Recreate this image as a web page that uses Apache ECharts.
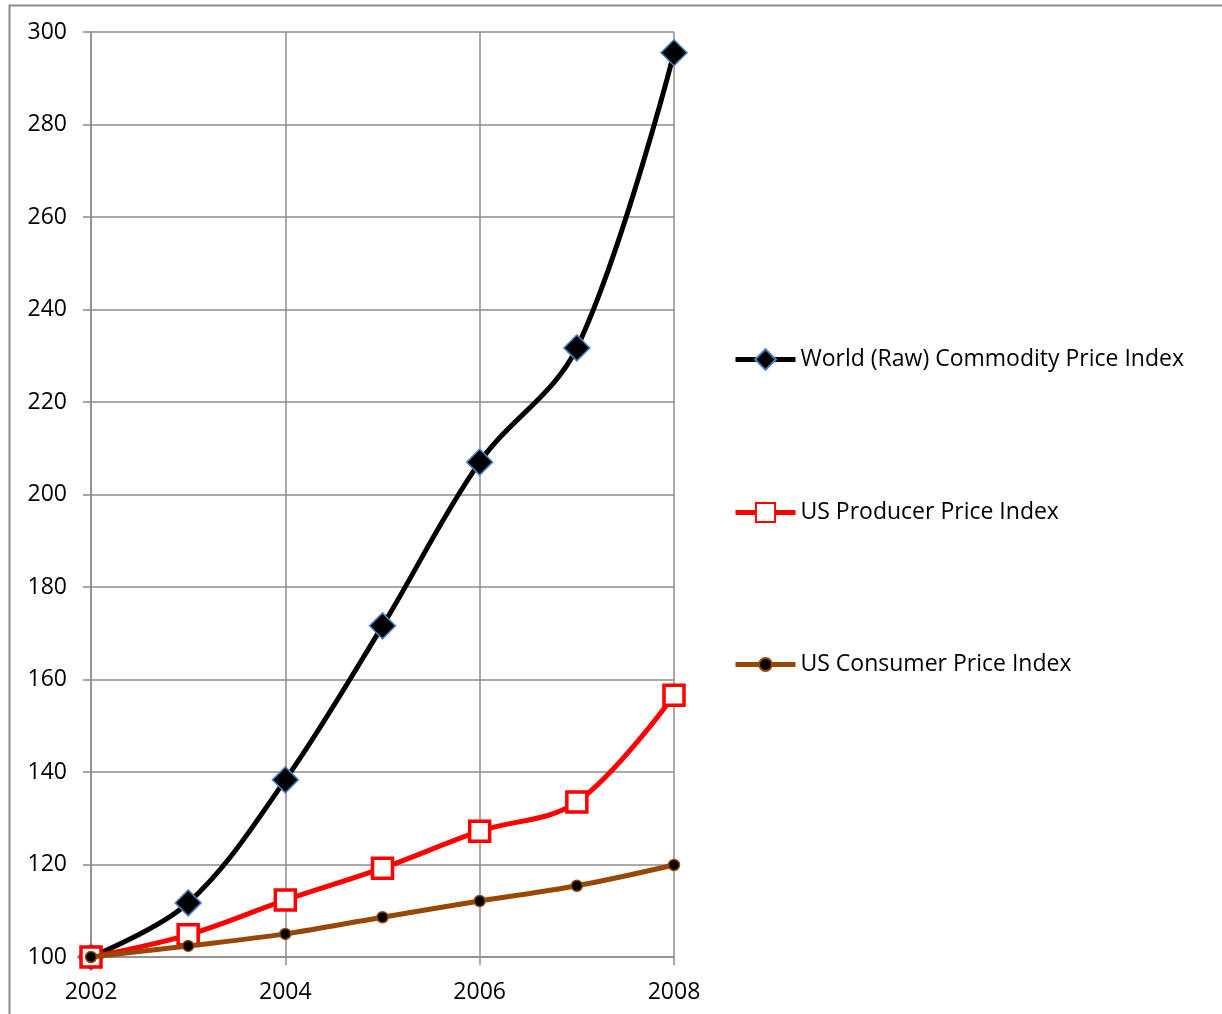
<!DOCTYPE html>
<html><head><meta charset="utf-8">
<script src="https://cdn.jsdelivr.net/npm/echarts@6/dist/echarts.min.js"></script>
<style>html,body{margin:0;padding:0;background:#fff}#c{width:1222px;height:1014px}</style>
</head><body><div id="c"></div>
<script>
const years = [2002, 2003, 2004, 2005, 2006, 2007, 2008];
const commodity = [100, 111.7, 138.3, 171.6, 207, 231.7, 295.5];
const producer = [100, 104.8, 112.3, 119.2, 127.2, 133.5, 156.6];
const consumer = [100, 102.4, 105, 108.6, 112.1, 115.4, 119.9];
const names = ['World (Raw) Commodity Price Index', 'US Producer Price Index', 'US Consumer Price Index'];
const pairs = arr => years.map((y, i) => [y, arr[i]]);
const FONT = 'Open Sans';
const FS = 23;
const legendCenters = [361, 514, 666];
const legendIconH = [26, 24, 16];
const chart = echarts.init(document.getElementById('c'));
chart.setOption({
  animation: false,
  backgroundColor: '#fff',
  graphic: [{type: 'rect', shape: {x: 9.5, y: 5.5, width: 1300, height: 1100}, style: {fill: 'none', stroke: '#8c8c8c', lineWidth: 2}, silent: true}],
  grid: {left: 91, right: 548, top: 32, bottom: 57},
  xAxis: {
    type: 'value', min: 2002, max: 2008, interval: 2,
    axisLine: {show: true, lineStyle: {color: '#8c8c8c', width: 1.5}},
    axisTick: {show: true, length: 8, lineStyle: {color: '#8c8c8c', width: 1.5}},
    splitLine: {show: true, lineStyle: {color: '#8c8c8c', width: 1.5}},
    axisLabel: {formatter: v => String(v), color: '#000', fontFamily: FONT, fontSize: FS, margin: 24}
  },
  yAxis: {
    type: 'value', min: 100, max: 300, interval: 20,
    axisLine: {show: true, lineStyle: {color: '#8c8c8c', width: 1.5}},
    axisTick: {show: true, length: 8, lineStyle: {color: '#8c8c8c', width: 1.5}},
    splitLine: {show: true, lineStyle: {color: '#8c8c8c', width: 1.5}},
    axisLabel: {color: '#000', fontFamily: FONT, fontSize: FS, margin: 24}
  },
  legend: names.map((n, i) => ({
    orient: 'vertical', left: 733, top: legendCenters[i] - Math.max(legendIconH[i], 26) / 2,
    itemWidth: 60, itemHeight: legendIconH[i], padding: 0,
    lineStyle: {width: 5},
    textStyle: {color: '#000', fontFamily: FONT, fontSize: FS},
    data: [n]
  })),
  series: [
    {name: names[0], type: 'line', smooth: 0.35, data: pairs(commodity),
     lineStyle: {color: '#000', width: 5}, symbol: 'diamond', symbolSize: 26,
     itemStyle: {color: '#000', borderColor: '#4f81bd', borderWidth: 1.5}, z: 2},
    {name: names[1], type: 'line', smooth: 0.35, data: pairs(producer),
     lineStyle: {color: '#ff0000', width: 5}, symbol: 'rect', symbolSize: 20,
     itemStyle: {color: '#fff', borderColor: '#ff0000', borderWidth: 3.5}, z: 3},
    {name: names[2], type: 'line', smooth: 0.35, data: pairs(consumer),
     lineStyle: {color: '#974806', width: 5}, symbol: 'circle', symbolSize: 11,
     itemStyle: {color: '#000', borderColor: '#974806', borderWidth: 1.5}, z: 4}
  ]
});
</script></body></html>
